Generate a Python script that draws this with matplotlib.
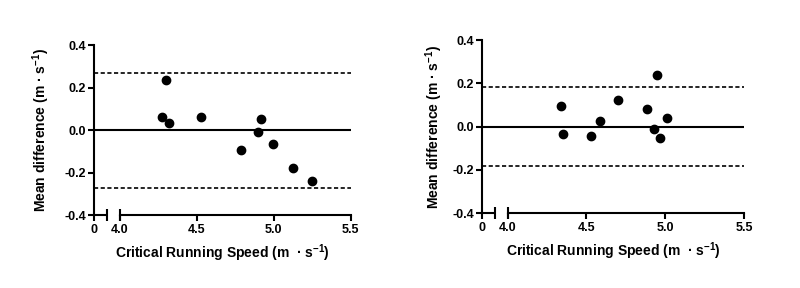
import numpy as np
import matplotlib
matplotlib.use('Agg')
from matplotlib import pyplot as plt
import matplotlib.transforms as mtransforms

plt.rcParams['font.family'] = ['Liberation Sans', 'DejaVu Sans']
plt.rcParams['font.weight'] = 'bold'
plt.rcParams['mathtext.fontset'] = 'custom'
plt.rcParams['mathtext.rm'] = 'Liberation Sans:bold'
plt.rcParams['mathtext.it'] = 'Liberation Sans:bold'
plt.rcParams['mathtext.bf'] = 'Liberation Sans:bold'

# left panel
speed_a = [4.277, 4.299, 4.320, 4.528, 4.788, 4.896, 4.918, 4.998, 5.128, 5.247]
diff_a = [0.064, 0.236, 0.033, 0.061, -0.092, -0.009, 0.053, -0.067, -0.177, -0.238]
bias_a = 0.0
loa_a = [0.27, -0.27]

# right panel
speed_b = [4.339, 4.349, 4.529, 4.588, 4.698, 4.886, 4.948, 4.927, 4.967, 5.009]
diff_b = [0.095, -0.032, -0.043, 0.028, 0.122, 0.082, 0.237, -0.012, -0.051, 0.040]
bias_b = 0.0
loa_b = [0.182, -0.182]

xticks = [4.0, 4.5, 5.0, 5.5]
yticks = [-0.4, -0.2, 0.0, 0.2, 0.4]

fig = plt.figure(figsize=(8, 2.88), dpi=100)
ax1 = fig.add_axes([0.1179, 0.2524, 0.3205, 0.5913])
ax2 = fig.add_axes([0.6029, 0.2594, 0.3271, 0.6017])


def panel(ax, x, y, bias, loa, xmin, ypad):
    ax.axhline(bias, color='black', lw=1.5)
    for v in loa:
        ax.axhline(v, color='black', lw=1.2, ls=(0, (2.5, 1.5)))
    ax.plot(x, y, 'o', color='black', ms=6, clip_on=False)
    ax.set_xlim(xmin, 5.5)
    ax.set_ylim(-0.4, 0.4)
    ax.set_yticks(yticks)
    ax.set_yticklabels(['%.1f' % v for v in yticks])
    ax.set_xticks([xmin] + xticks)
    ax.set_xticklabels(['0'] + ['%.1f' % v for v in xticks])
    for s in ['top', 'right']:
        ax.spines[s].set_visible(False)
    ax.spines['left'].set_linewidth(1.5)
    ax.spines['bottom'].set_linewidth(1.5)
    ax.spines['bottom'].set_bounds(4.0, 5.5)
    ax.tick_params(width=1.5, length=4, labelsize=9, pad=2)
    # short first segment of the broken axis
    tr = mtransforms.blended_transform_factory(ax.transData, ax.transAxes)
    seg_end = xmin + (4.0 - xmin) * 0.49
    ax.plot([xmin, seg_end], [0, 0], color='black', lw=1.5, transform=tr,
            clip_on=False, solid_capstyle='butt')
    ax.plot([seg_end, 4.0], [0, 0], '|', color='black', ms=8, mew=1.5,
            transform=tr, clip_on=False)
    ax.set_xlabel('Critical Running Speed (m  · s$^{-1}$)', fontsize=10,
                  fontweight='bold', labelpad=5)
    ax.set_ylabel('Mean difference (m · s$^{-1}$)', fontsize=10,
                  fontweight='bold', labelpad=ypad)


panel(ax1, speed_a, diff_a, bias_a, loa_a, 3.835, 9)
panel(ax2, speed_b, diff_b, bias_b, loa_b, 3.839, 5)

plt.savefig('out.png', dpi=100)
